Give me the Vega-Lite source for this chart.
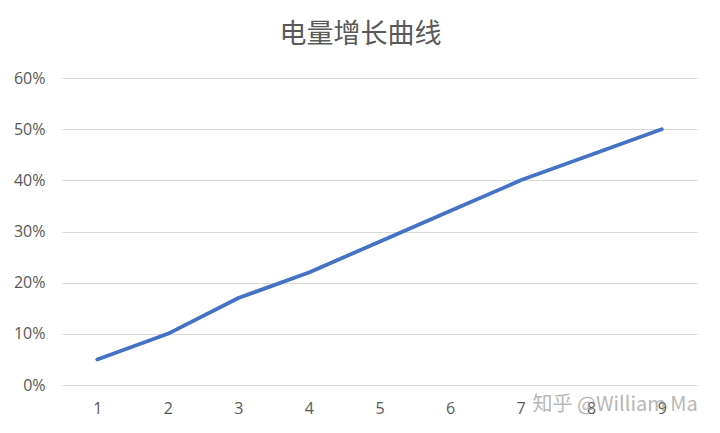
{
  "$schema": "https://vega.github.io/schema/vega-lite/v6.json",
  "width": 635,
  "height": 307,
  "autosize": {"type": "none"},
  "padding": {"left": 62, "top": 78, "right": 23, "bottom": 48},
  "background": "white",
  "title": {
    "text": "电量增长曲线",
    "font": "Noto Sans CJK SC",
    "fontSize": 27,
    "fontWeight": "normal",
    "color": "#595959",
    "offset": 21,
    "dx": -19
  },
  "data": {
    "values": [
      {"x": "1", "y": 0.05},
      {"x": "2", "y": 0.10},
      {"x": "3", "y": 0.17},
      {"x": "4", "y": 0.22},
      {"x": "5", "y": 0.28},
      {"x": "6", "y": 0.34},
      {"x": "7", "y": 0.40},
      {"x": "8", "y": 0.45},
      {"x": "9", "y": 0.50}
    ]
  },
  "layer": [
    {
      "mark": {"type": "line", "color": "#4472C4", "strokeWidth": 3.8, "strokeCap": "round", "strokeJoin": "round"},
      "encoding": {
        "x": {
          "field": "x",
          "type": "ordinal",
          "title": null,
          "scale": {"paddingInner": 0, "paddingOuter": 0.5},
          "axis": {
            "labelAngle": 0,
            "domain": false,
            "ticks": false,
            "labelPadding": 15,
            "labelFont": "Open Sans",
            "labelFontSize": 16,
            "labelColor": "#595959"
          }
        },
        "y": {
          "field": "y",
          "type": "quantitative",
          "title": null,
          "scale": {"domain": [0, 0.6]},
          "axis": {
            "format": ".0%",
            "values": [0, 0.1, 0.2, 0.3, 0.4, 0.5, 0.6],
            "labelOverlap": false,
            "domain": false,
            "ticks": false,
            "labelPadding": 17,
            "labelFont": "Open Sans",
            "labelFontSize": 16,
            "labelColor": "#595959",
            "gridColor": "#D9D9D9",
            "gridWidth": 1
          }
        }
      }
    },
    {
      "data": {"values": [{"x": "8", "y": 0, "label": "知乎 @William Ma"}]},
      "mark": {
        "type": "text",
        "font": "Noto Sans CJK SC",
        "fontSize": 20,
        "color": "#9a9a9a",
        "opacity": 0.7,
        "dx": 24,
        "dy": 20
      },
      "encoding": {
        "x": {"field": "x", "type": "ordinal"},
        "y": {"field": "y", "type": "quantitative"},
        "text": {"field": "label"}
      }
    }
  ],
  "config": {
    "view": {"stroke": null}
  }
}
